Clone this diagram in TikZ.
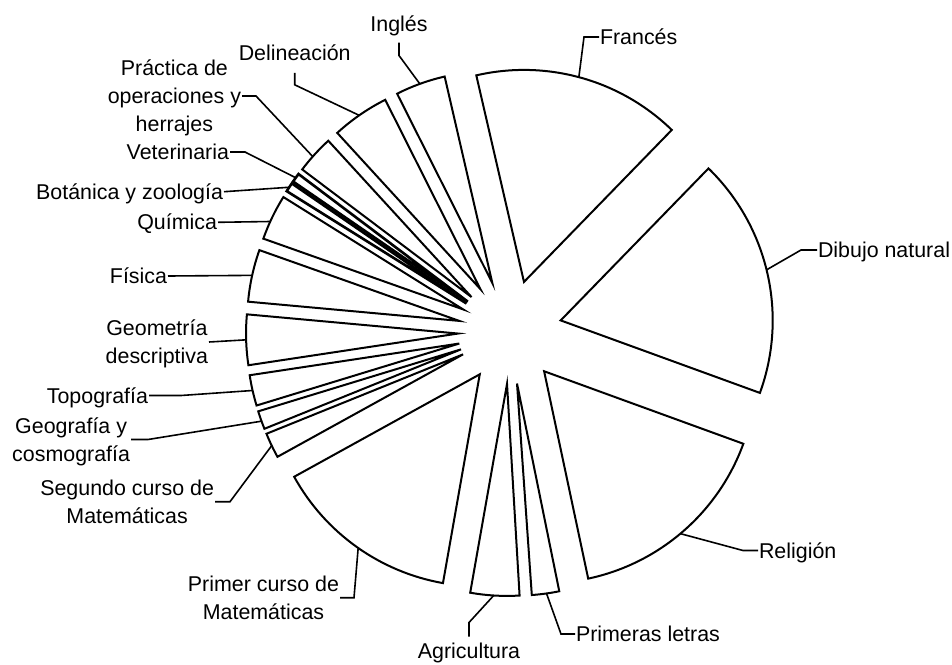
\documentclass[tikz,border=0pt]{standalone}
\usepackage{fontspec}
\setmainfont{Liberation Sans}
\usetikzlibrary{calc}
\newcommand\hst{\rule{0pt}{21pt}}
\newcommand\dst{\rule[-6pt]{0pt}{6pt}}
\tikzset{
  slice/.style={draw=black, line width=2pt, line join=miter},
  thinslice/.style={draw=black, line width=2.6pt, line join=miter},
  lbl/.style={font=\fontsize{21.4}{28}\selectfont, inner xsep=1pt, inner ysep=0pt, outer sep=0pt, align=center},
  conn/.style={draw=black, line width=1.6pt}
}
\newcommand\mkslice[5][slice]{%
  \pgfmathsetmacro\bis{(#3+#4)/2}%
  \draw[#1] (C) ++(\bis:52) coordinate (#2-a) -- ++(#3:212) arc[start angle=#3, end angle=#4, radius=212] -- cycle;
  \path (#2-a) ++(#5:212) coordinate (#2-p);
}
\begin{document}
\begin{tikzpicture}[x=1pt, y=1pt]
\useasboundingbox (0,0) rectangle (952,-664);
\coordinate (C) at (510,-332);
% slices
\mkslice{Di}{-20}{45.8}{13.8}
\mkslice{Fr}{45.8}{103}{75}
\mkslice{In}{103}{116.7}{110}
\mkslice{De}{116.7}{132.5}{124.9}
\mkslice{Pr}{132.5}{143}{138.5}
\mkslice[thinslice]{Ve}{143}{145.5}{144.25}
\mkslice[thinslice]{Bo}{145.5}{148}{146.75}
\mkslice{Qu}{148}{160.5}{155.5}
\mkslice{Fi}{160.5}{174.8}{167.6}
\mkslice{Ge}{174.8}{188.6}{181.7}
\mkslice{To}{188.6}{197}{192.8}
\mkslice{Gg}{197}{202}{199.8}
\mkslice{Sc}{202}{208.9}{205.5}
\mkslice{Pc}{208.9}{260}{235}
\mkslice{Ag}{260}{273.4}{266.4}
\mkslice{Pl}{274}{281.5}{278}
\mkslice{Re}{282}{340}{310}
% labels
\node[lbl, anchor=west] (fr) at (599,-37) {\hst Francés\dst};
\node[lbl, anchor=west] (di) at (817,-250) {\hst Dibujo natural\dst};
\node[lbl, anchor=west] (re) at (758,-550.5) {\hst Religión\dst};
\node[lbl, anchor=west] (pl) at (575,-634) {\hst Primeras letras\dst};
\node[lbl, anchor=base] (ag) at (469,-658.5) {Agricultura};
\node[lbl, anchor=east] (pc) at (340,-597.7) {\hst Primer curso de\\Matemáticas\dst};
\node[lbl, anchor=east] (sc) at (215,-501.7) {\hst Segundo curso de\\Matemáticas\dst};
\node[lbl, anchor=east] (gg) at (131,-439.5) {\hst Geografía y\\cosmografía\dst};
\node[lbl, anchor=east] (to) at (149,-395.5) {\hst Topografía\dst};
\node[lbl, anchor=east] (ge) at (209,-342) {\hst Geometría\\descriptiva\dst};
\node[lbl, anchor=east] (fi) at (168,-276) {\hst Física\dst};
\node[lbl, anchor=east] (qu) at (218,-222.3) {\hst Química\dst};
\node[lbl, anchor=east] (bo) at (224,-191.7) {\hst Botánica y zoología\dst};
\node[lbl, anchor=east] (ve) at (230,-152) {\hst Veterinaria\dst};
\node[lbl, anchor=east] (pr) at (242,-96) {\hst Práctica de\\operaciones y\\herrajes\dst};
\node[lbl, anchor=base] (de) at (294.7,-60.8) {Delineación};
\node[lbl, anchor=base] (in) at (399,-31.5) {Inglés};
% connectors
\draw[conn] (fr.west) -- ++(-15,0) -- (Fr-p);
\draw[conn] (di.west) -- ++(-16,0) -- (Di-p);
\draw[conn] (re.west) -- ++(-15,0) -- (Re-p);
\draw[conn] (pl.west) -- ++(-14,0) -- (Pl-p);
\draw[conn] ([yshift=22pt]ag.base) -- ++(0,14) -- (Ag-p);
\draw[conn] (pc.east) -- ++(14,0) -- (Pc-p);
\draw[conn] (sc.east) -- ++(15,0) -- (Sc-p);
\draw[conn] (gg.east) -- ++(17,0) -- (Gg-p);
\draw[conn] (to.east) -- ++(32,0) -- (To-p);
\draw[conn] (ge.east) -- (Ge-p);
\draw[conn] (fi.east) -- (Fi-p);
\draw[conn] (qu.east) -- (Qu-p);
\draw[conn] (bo.east) -- (Bo-p);
\draw[conn] (ve.east) -- ++(15,0) -- (Ve-p);
\draw[conn] (pr.east) -- ++(14,0) -- (Pr-p);
\draw[conn] ([yshift=-12pt]de.base) -- ++(0,-12) -- (De-p);
\draw[conn] ([yshift=-11pt]in.base) -- ++(0,-13) -- (In-p);
\end{tikzpicture}
\end{document}
